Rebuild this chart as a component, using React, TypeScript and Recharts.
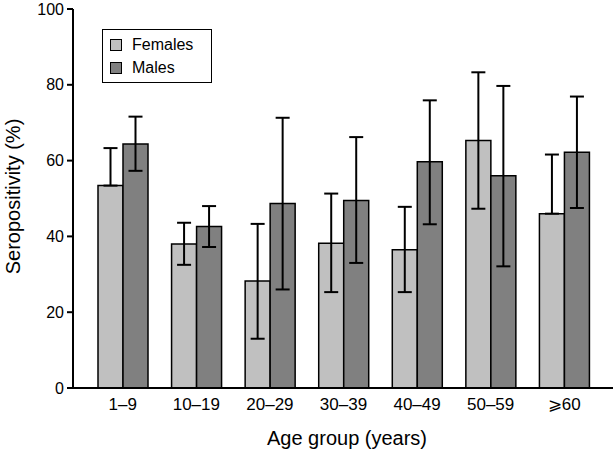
import { Bar, BarChart, ErrorBar, XAxis, YAxis, Label } from "recharts";

const FONT = "'Liberation Sans', Arial, Helvetica, sans-serif";

// age groups and seropositivity (%)
const ageGroups = ["1–9", "10–19", "20–29", "30–39", "40–49", "50–59", "⩾60"];
const females = [53.4, 38.0, 28.2, 38.2, 36.5, 65.3, 46.0];
const femalesLow = [53.4, 32.5, 13.0, 25.3, 25.3, 47.3, 46.0];
const femalesHigh = [63.3, 43.6, 43.3, 51.3, 47.8, 83.3, 61.6];
const males = [64.4, 42.6, 48.7, 49.5, 59.7, 56.0, 62.2];
const malesLow = [57.3, 37.2, 26.0, 33.0, 43.2, 32.1, 47.5];
const malesHigh = [71.6, 48.0, 71.3, 66.2, 75.9, 79.7, 76.9];
const yTicks = [0, 20, 40, 60, 80, 100];

const series = [
  { key: "females", name: "Females", fill: "#c0c0c0" },
  { key: "males", name: "Males", fill: "#808080" },
];

const data = ageGroups.map((g, i) => ({
  group: g,
  females: females[i],
  errF: [females[i] - femalesLow[i], femalesHigh[i] - females[i]],
  males: males[i],
  errM: [males[i] - malesLow[i], malesHigh[i] - males[i]],
}));

function LegendBox() {
  return (
    <div
      style={{
        position: "absolute",
        left: 102,
        top: 29,
        width: 108,
        height: 52,
        border: "1.5px solid #000",
        background: "#fff",
        fontFamily: FONT,
        fontSize: 16,
        color: "#000",
      }}
    >
      {series.map((s, i) => (
        <div
          key={s.key}
          style={{ position: "absolute", left: 7, top: 6 + i * 23, display: "flex", alignItems: "center", height: 18 }}
        >
          <span
            style={{
              display: "inline-block",
              width: 10,
              height: 10,
              background: s.fill,
              border: "1.5px solid #000",
              marginRight: 10,
            }}
          />
          <span>{s.name}</span>
        </div>
      ))}
    </div>
  );
}

export default function App() {
  return (
    <div style={{ position: "absolute", left: 0, top: 0, width: 614, height: 451, background: "#fff" }}>
      <BarChart
        width={614}
        height={451}
        data={data}
        margin={{ top: 9, right: 1, left: 0, bottom: 0 }}
        barGap={0}
        barCategoryGap={12}
      >
        <XAxis
          dataKey="group"
          height={63}
          padding={{ left: 13, right: 12 }}
          tickLine={false}
          axisLine={{ stroke: "#000", strokeWidth: 2 }}
          tick={{ fontSize: 17, fill: "#000", fontFamily: FONT }}
          tickMargin={4}
        >
          <Label
            value="Age group (years)"
            position="insideBottom"
            offset={6}
            dx={4}
            style={{ fontSize: 20, fill: "#000", fontFamily: FONT }}
          />
        </XAxis>
        <YAxis
          width={73}
          domain={[0, 100]}
          ticks={yTicks}
          tickSize={6}
          tickMargin={3}
          axisLine={{ stroke: "#000", strokeWidth: 2 }}
          tickLine={{ stroke: "#000", strokeWidth: 2 }}
          tick={{ fontSize: 16, fill: "#000", fontFamily: FONT }}
        >
          <Label
            value="Seropositivity (%)"
            angle={-90}
            position="insideLeft"
            offset={13}
            dy={-2}
            style={{ fontSize: 20, fill: "#000", fontFamily: FONT, textAnchor: "middle" }}
          />
        </YAxis>
        <Bar dataKey="females" name="Females" fill="#c0c0c0" stroke="#000" strokeWidth={1.5} isAnimationActive={false}>
          <ErrorBar dataKey="errF" direction="y" width={7} stroke="#000" strokeWidth={2} isAnimationActive={false} />
        </Bar>
        <Bar dataKey="males" name="Males" fill="#808080" stroke="#000" strokeWidth={1.5} isAnimationActive={false}>
          <ErrorBar dataKey="errM" direction="y" width={7} stroke="#000" strokeWidth={2} isAnimationActive={false} />
        </Bar>
      </BarChart>
      <LegendBox />
    </div>
  );
}
